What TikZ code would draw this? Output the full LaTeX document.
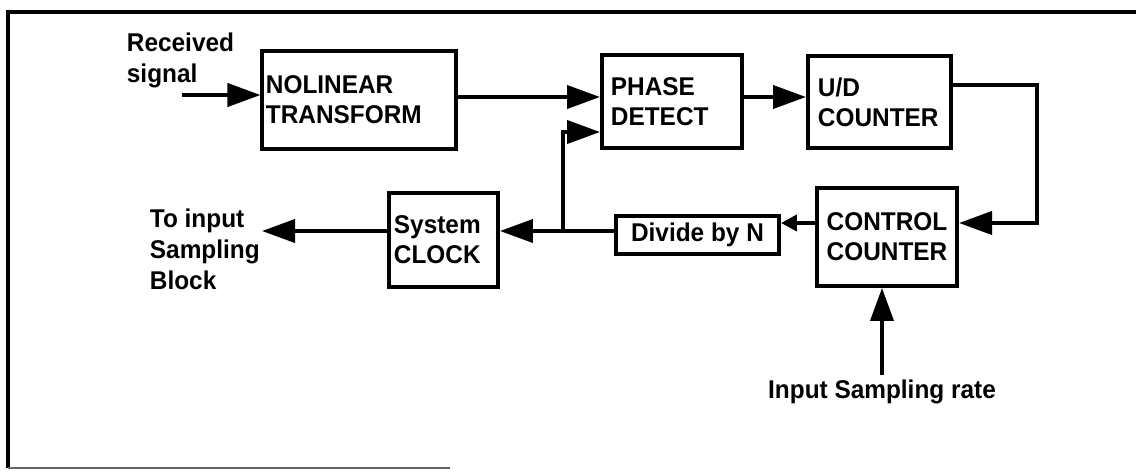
\documentclass[tikz,border=0pt]{standalone}
\usepackage{fontspec}
\setmainfont{Liberation Sans}[FakeStretch=0.95]
\usetikzlibrary{arrows.meta}
\tikzset{
  blk/.style={draw, line width=1.1pt, inner sep=0pt, font=\bfseries\fontsize{7.3}{8.5}\selectfont},
  lbl/.style={inner sep=0pt, align=left, font=\bfseries\fontsize{7.3}{8.8}\selectfont},
  sig/.style={line width=1.1pt, -{Triangle[length=0.33cm,width=0.23cm]}},
  tip/.style={line width=1.1pt, -{Triangle[length=0.16cm,width=0.16cm]}}
}
\begin{document}
\begin{tikzpicture}[x=0.01cm, y=-0.01cm, line width=1.1pt]
  \def\fb{563}\def\lp{1037}
  \useasboundingbox (0,0) rectangle (1136,472);
  \draw[line width=1.3pt] (1136,12) -- (8,12) -- (8,468);
  \draw[line width=0.8pt, black!60] (8,468) -- (450,468);
  \node[blk, minimum width=1.92cm, minimum height=0.98cm, inner xsep=1pt, text width=1.86cm, align=left] (nlt) at (359,100) {NOLINEAR\\TRANSFORM};
  \node[blk, minimum width=1.40cm, minimum height=0.93cm, inner xsep=0.09cm, text width=1.22cm, align=left] (pd) at (672,101.5) {PHASE\\DETECT};
  \node[blk, minimum width=1.43cm, minimum height=0.92cm, inner xsep=0.1cm, text width=1.23cm, align=left] (ud) at (879.5,102) {U/D\\COUNTER};
  \node[blk, minimum width=1.40cm, minimum height=0.98cm, align=center] (cc) at (887,237) {CONTROL\\COUNTER};
  \node[blk, minimum width=1.63cm, minimum height=0.38cm] (div) at (697.5,235) {Divide by N};
  \node[blk, minimum width=1.09cm, minimum height=0.94cm, inner xsep=0.05cm, text width=0.99cm, align=left] (clk) at (443.5,240) {System\\CLOCK};
  \node[lbl, anchor=north west] (rs) at (125,31) {Received\\signal};
  \node[lbl, anchor=north west] (tis) at (148,207) {To input\\Sampling\\Block};
  \node[lbl] (isr) at (882,392) {Input Sampling rate};
  \coordinate (in) at (182,95);
  \coordinate (rowa) at (0,97);
  \coordinate (out) at (262,231);
  \coordinate (jn) at (\fb,231);
  \coordinate (rt) at (\lp,0);
  \coordinate (ccin) at ([yshift=0.14cm]cc.east);
  \coordinate (isb) at (882,375);
  \draw[sig] (in) -- (in -| nlt.west);
  \draw[sig] (nlt.east |- rowa) -- (pd.west |- rowa);
  \draw[sig] (pd.east |- rowa) -- (ud.west |- rowa);
  \draw[sig] ([yshift=0.17cm]ud.east) -| (rt |- ccin) -- (ccin);
  \draw[tip] ([yshift=0.14cm]cc.west) -- ([yshift=0.14cm]cc.west -| div.east);
  \draw[sig] (div.west |- jn) -- (jn -| clk.east);
  \draw[sig] (jn) |- ([yshift=-0.305cm]pd.west);
  \draw[sig] (clk.west |- out) -- (out);
  \draw[sig] (isb) -- (isb |- cc.south);
\end{tikzpicture}
\end{document}
